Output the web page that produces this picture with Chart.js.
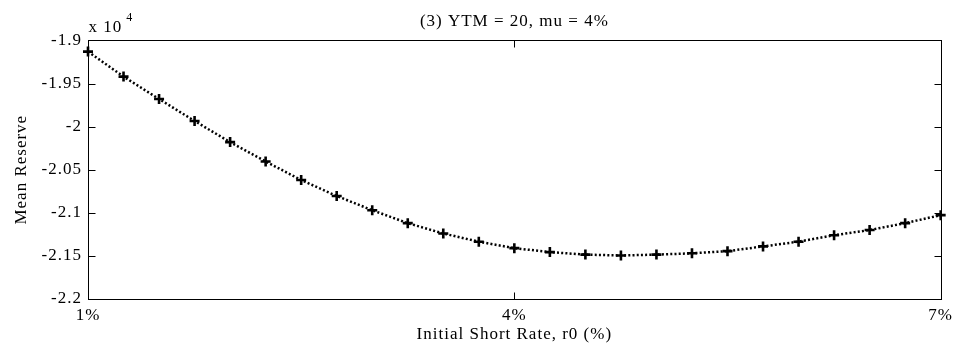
<!DOCTYPE html>
<html>
<head>
<meta charset="utf-8">
<script src="https://cdn.jsdelivr.net/npm/chart.js@4.4.1/dist/chart.umd.min.js"></script>
<style>
  html, body { margin: 0; padding: 0; background: #fff; }
  #wrap { width: 959px; height: 354px; }
</style>
</head>
<body>
<div id="wrap"><canvas id="chart-canvas" width="959" height="354"></canvas></div>
<script>
// initial short rate r0 (%)
let rates = [1, 1.25, 1.5, 1.75, 2, 2.25, 2.5, 2.75, 3, 3.25, 3.5, 3.75, 4,
  4.25, 4.5, 4.75, 5, 5.25, 5.5, 5.75, 6, 6.25, 6.5, 6.75, 7];

// mean reserve, in units of 10^4
let reserve = [-1.913, -1.942, -1.968, -1.9935, -2.018, -2.0405, -2.062, -2.0805,
  -2.097, -2.112, -2.124, -2.1335, -2.141, -2.1456, -2.1485, -2.1495, -2.1485,
  -2.147, -2.1445, -2.139, -2.1335, -2.126, -2.12, -2.112, -2.1027];

let xTicks = [1, 4, 7];
let yTicks = [-2.2, -2.15, -2.1, -2.05, -2, -1.95, -1.9];

const FONT = "'Liberation Serif', 'Times New Roman', serif";
const TICK_LEN = 7;

// canvas text in this plot is a little spread out
function setSpacing(chart) {
  chart.ctx.letterSpacing = "1px";
}

// matlab style box: frame on all four sides, ticks pointing inward, exponent note
const boxAxes = {
  id: "boxAxes",
  beforeUpdate: setSpacing,
  beforeDraw: setSpacing,
  afterDraw(chart) {
    let ctx = chart.ctx;
    let a = chart.chartArea;
    let x = chart.scales.x;
    let y = chart.scales.y;
    let l = Math.round(a.left) + 0.5, r = Math.round(a.right) + 0.5;
    let t = Math.round(a.top) + 0.5, b = Math.round(a.bottom) + 0.5;

    ctx.save();
    ctx.strokeStyle = "#000";
    ctx.lineWidth = 1;
    ctx.strokeRect(l, t, r - l, b - t);

    ctx.beginPath();
    for (let i = 0; i < yTicks.length; i++) {
      let py = Math.round(y.getPixelForValue(yTicks[i])) + 0.5;
      ctx.moveTo(l, py); ctx.lineTo(l + TICK_LEN, py);
      ctx.moveTo(r, py); ctx.lineTo(r - TICK_LEN, py);
    }
    for (let i = 0; i < xTicks.length; i++) {
      let px = Math.round(x.getPixelForValue(xTicks[i])) + 0.5;
      ctx.moveTo(px, b); ctx.lineTo(px, b - TICK_LEN);
      ctx.moveTo(px, t); ctx.lineTo(px, t + TICK_LEN);
    }
    ctx.stroke();

    // "x 10^4" above the top left corner
    ctx.fillStyle = "#000";
    ctx.textAlign = "left";
    ctx.textBaseline = "alphabetic";
    ctx.font = "17px " + FONT;
    ctx.fillText("x 10", l, t - 9);
    let w = ctx.measureText("x 10").width;
    ctx.font = "12px " + FONT;
    ctx.fillText("4", l + w + 4, t - 20);
    ctx.restore();
  },
};

let points = [];
for (let i = 0; i < rates.length; i++) {
  points.push({ x: rates[i], y: reserve[i] });
}

let chart = new Chart(document.getElementById("chart-canvas"), {
  type: "line",
  data: {
    datasets: [
      {
        label: "Mean Reserve",
        data: points,
        borderColor: "#000",
        borderWidth: 2.5,
        borderDash: [2, 2.2],
        tension: 0,
        fill: false,
        clip: false,
        pointStyle: "cross",
        pointRadius: 5,
        pointBorderWidth: 2.6,
        pointBorderColor: "#000",
        pointBackgroundColor: "#000",
      },
    ],
  },
  options: {
    responsive: false,
    animation: false,
    devicePixelRatio: 1,
    layout: { padding: { right: 14 } },
    plugins: {
      legend: { display: false },
      tooltip: { enabled: false },
      title: {
        display: true,
        fullSize: false,
        text: "(3) YTM = 20, mu = 4%",
        color: "#000",
        font: { family: FONT, size: 17, weight: "normal" },
        padding: { top: 11, bottom: 9 },
      },
    },
    scales: {
      x: {
        type: "linear",
        min: 1,
        max: 7,
        grid: { display: false, drawTicks: false },
        border: { display: false },
        afterBuildTicks: (s) => { s.ticks = xTicks.map((v) => ({ value: v })); },
        ticks: {
          color: "#000",
          padding: 6,
          maxRotation: 0,
          font: { family: FONT, size: 17 },
          callback: (v) => v + "%",
        },
        title: {
          display: true,
          text: "Initial Short Rate, r0 (%)",
          color: "#000",
          font: { family: FONT, size: 17 },
          padding: { top: 0, bottom: 9 },
        },
        afterFit: (s) => { s.height = 55; },
      },
      y: {
        type: "linear",
        min: -2.2,
        max: -1.9,
        grid: { display: false, drawTicks: false },
        border: { display: false },
        afterBuildTicks: (s) => { s.ticks = yTicks.map((v) => ({ value: v })); },
        ticks: {
          color: "#000",
          padding: 6,
          font: { family: FONT, size: 17 },
          callback: (v) => String(Number(v.toFixed(2))),
        },
        title: {
          display: true,
          text: "Mean Reserve",
          color: "#000",
          font: { family: FONT, size: 17 },
          padding: { top: 11, bottom: 0 },
        },
        afterFit: (s) => { s.width = 88; },
      },
    },
  },
  plugins: [boxAxes],
});
</script>
</body>
</html>
